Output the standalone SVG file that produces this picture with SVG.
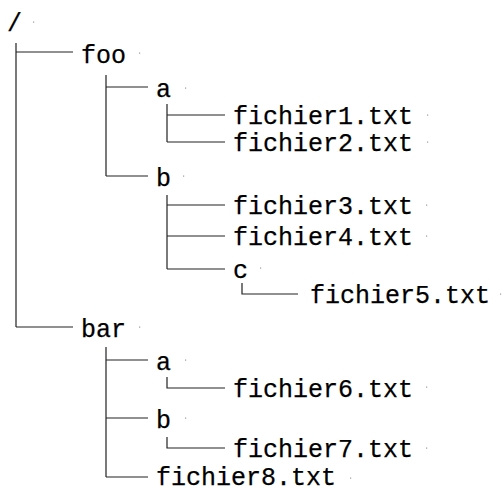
<svg xmlns="http://www.w3.org/2000/svg" width="502" height="488" viewBox="0 0 502 488">
<style>
text{font-family:"Liberation Mono","Courier New",monospace;font-size:25px;fill:#000;stroke:#000;stroke-width:0.25}
.c{stroke:#222;stroke-width:1.2;fill:none}
.d{fill:#999}
</style>
<rect width="502" height="488" fill="#fff"/>
<g id="connectors">
<path class="c" d="M16 43V327M16 52H73M16 327H73"/>
<path class="c" d="M106 75V176M106 87H148M106 176H148"/>
<path class="c" d="M167 104V142M167 115H225M167 142H225"/>
<path class="c" d="M167 195V269M167 205H225M167 236H225M167 269H225"/>
<path class="c" d="M242 283V294H298"/>
<path class="c" d="M106 347V477M106 360H148M106 418H148M106 477H148"/>
<path class="c" d="M167 377V388H225"/>
<path class="c" d="M167 437V448H225"/>
</g>
<g id="root"><text x="7" y="31">/</text><rect class="d" x="33" y="21.5" width="1.2" height="1.2"/></g>
<g id="foo"><text x="81" y="63">foo</text><rect class="d" x="139" y="52.5" width="1.2" height="1.2"/></g>
<g id="foo-a"><text x="156" y="97">a</text><rect class="d" x="185" y="87.5" width="1.2" height="1.2"/></g>
<g id="fichier1"><text x="233" y="124">fichier1.txt</text><rect class="d" x="427" y="114.5" width="1.2" height="1.2"/></g>
<g id="fichier2"><text x="233" y="151">fichier2.txt</text><rect class="d" x="427" y="141.5" width="1.2" height="1.2"/></g>
<g id="foo-b"><text x="156" y="186">b</text><rect class="d" x="183" y="175.5" width="1.2" height="1.2"/></g>
<g id="fichier3"><text x="233" y="214">fichier3.txt</text><rect class="d" x="426" y="204.5" width="1.2" height="1.2"/></g>
<g id="fichier4"><text x="233" y="245">fichier4.txt</text><rect class="d" x="426" y="235.5" width="1.2" height="1.2"/></g>
<g id="foo-b-c"><text x="233" y="278">c</text><rect class="d" x="260" y="267.5" width="1.2" height="1.2"/></g>
<g id="fichier5"><text x="310" y="303">fichier5.txt</text><rect class="d" x="500" y="293.5" width="1.2" height="1.2"/></g>
<g id="bar"><text x="81" y="337">bar</text><rect class="d" x="139" y="326.5" width="1.2" height="1.2"/></g>
<g id="bar-a"><text x="156" y="370">a</text><rect class="d" x="185" y="359.5" width="1.2" height="1.2"/></g>
<g id="fichier6"><text x="233" y="397">fichier6.txt</text><rect class="d" x="426" y="386.5" width="1.2" height="1.2"/></g>
<g id="bar-b"><text x="156" y="428">b</text><rect class="d" x="185" y="417.5" width="1.2" height="1.2"/></g>
<g id="fichier7"><text x="233" y="457">fichier7.txt</text><rect class="d" x="426" y="447.5" width="1.2" height="1.2"/></g>
<g id="fichier8"><text x="156" y="485">fichier8.txt</text><rect class="d" x="350" y="477.5" width="1.2" height="1.2"/></g>
</svg>
